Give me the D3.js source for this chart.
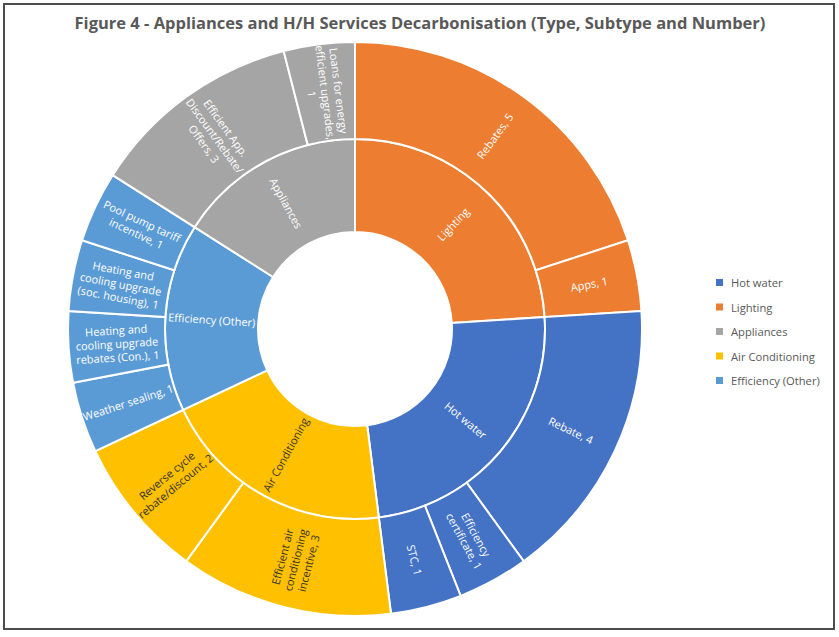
<!DOCTYPE html>
<html>
<head>
<meta charset="utf-8">
<script src="https://cdn.jsdelivr.net/npm/d3@7"></script>
<style>
  body { margin: 0; background: #fff; }
  svg text { font-family: "Open Sans", sans-serif; }
</style>
</head>
<body>
<svg id="chart" width="839" height="637"></svg>
<script>
// categories (inner ring), in clockwise order from 12 o'clock
var types = ["Lighting", "Hot water", "Air Conditioning", "Efficiency (Other)", "Appliances"];
var typeColors = ["#ED7D31", "#4472C4", "#FFC000", "#5B9BD5", "#A5A5A5"];

// subtypes (outer ring) per category, with counts
var subtypes = [
  ["Rebates", "Apps"],
  ["Rebate", "Efficiency certificate", "STC"],
  ["Efficient air conditioning incentive", "Reverse cycle rebate/discount"],
  ["Weather sealing", "Heating and cooling upgrade rebates (Con.)", "Heating and cooling upgrade (soc. housing)", "Pool pump tariff incentive"],
  ["Efficient App. Discount/Rebate/ Offers", "Loans for energy efficient upgrades"]
];
var counts = [
  [5, 1],
  [4, 1, 1],
  [3, 2],
  [1, 1, 1, 1],
  [3, 1]
];
// how the data labels wrap in the picture
var subtypeLines = [
  [["Rebates, 5"], ["Apps, 1"]],
  [["Rebate, 4"], ["Efficiency", "certificate, 1"], ["STC, 1"]],
  [["Efficient air", "conditioning", "incentive, 3"], ["Reverse cycle", "rebate/discount, 2"]],
  [["Weather sealing, 1"], ["Heating and", "cooling upgrade", "rebates (Con.), 1"],
   ["Heating and", "cooling upgrade", "(soc. housing), 1"], ["Pool pump tariff", "incentive, 1"]],
  [["Efficient App.", "Discount/Rebate/", "Offers, 3"], ["Loans for energy", "efficient upgrades,", "1"]]
];

// legend order
var legendNames = ["Hot water", "Lighting", "Appliances", "Air Conditioning", "Efficiency (Other)"];

var svg = d3.select("#chart");
const cx = 355, cy = 329;

// frame
svg.append("rect").attr("x", 4).attr("y", 4).attr("width", 830).attr("height", 625)
   .attr("fill", "none").attr("stroke", "#4d4d4d").attr("stroke-width", 2);

svg.append("text").text("Figure 4 - Appliances and H/H Services Decarbonisation (Type, Subtype and Number)")
   .attr("x", 420).attr("y", 29).attr("text-anchor", "middle")
   .attr("font-size", 16.5).attr("font-weight", 700).attr("fill", "#595959");

// build hierarchy
var root = {name: "root", children: types.map(function(t, i) {
  return {name: t, color: typeColors[i], lines: [t],
          children: subtypes[i].map(function(s, j) {
            return {name: s, value: counts[i][j], color: typeColors[i], lines: subtypeLines[i][j]};
          })};
})};

var hier = d3.hierarchy(root).sum(function(d) { return d.value || 0; });
d3.partition().size([2 * Math.PI, 3])(hier);

var radius = d3.scaleLinear().domain([1, 2, 3]).range([97, 190, 287]);

var arc = d3.arc()
  .startAngle(function(d) { return d.x0; })
  .endAngle(function(d) { return d.x1; })
  .innerRadius(function(d) { return radius(d.y0); })
  .outerRadius(function(d) { return radius(d.y1); });

var g = svg.append("g").attr("transform", "translate(" + cx + "," + cy + ")");
var nodes = hier.descendants().filter(function(d) { return d.depth > 0; });

g.selectAll("path").data(nodes).enter().append("path")
  .attr("d", arc)
  .attr("fill", function(d) { return d.data.color; })
  .attr("stroke", "#fff").attr("stroke-width", 2);

// labels, radial like Excel's sunburst
var lineH = 13.5;
var labels = g.selectAll("g.lbl").data(nodes).enter().append("g")
  .attr("class", "lbl")
  .attr("transform", function(d) {
    var a = (d.x0 + d.x1) / 2;
    var r = (radius(d.y0) + radius(d.y1)) / 2;
    var deg = a * 180 / Math.PI;
    var rot = deg < 180 ? deg - 90 : deg - 270;
    return "translate(" + (r * Math.sin(a)) + "," + (-r * Math.cos(a)) + ") rotate(" + rot + ")";
  });

labels.append("text")
  .attr("text-anchor", "middle")
  .attr("font-size", 11)
  .attr("fill", function(d) { return d.data.color === "#FFC000" ? "#333333" : "#ffffff"; })
  .each(function(d) {
    var t = d3.select(this);
    var n = d.data.lines.length;
    d.data.lines.forEach(function(line, i) {
      t.append("tspan").attr("x", 0)
       .attr("y", (i - (n - 1) / 2) * lineH + 4)
       .text(line);
    });
  });

// legend
var legend = svg.append("g").attr("transform", "translate(716,283)");
var li = legend.selectAll("g").data(legendNames).enter().append("g")
  .attr("transform", function(d, i) { return "translate(0," + (i * 24.5) + ")"; });
li.append("rect").attr("x", 0).attr("y", -4).attr("width", 7).attr("height", 7)
  .attr("fill", function(d) { return typeColors[types.indexOf(d)]; });
li.append("text").attr("x", 15).attr("y", 4).text(function(d) { return d; })
  .attr("font-size", 11.2).attr("fill", "#595959");
</script>
</body>
</html>
